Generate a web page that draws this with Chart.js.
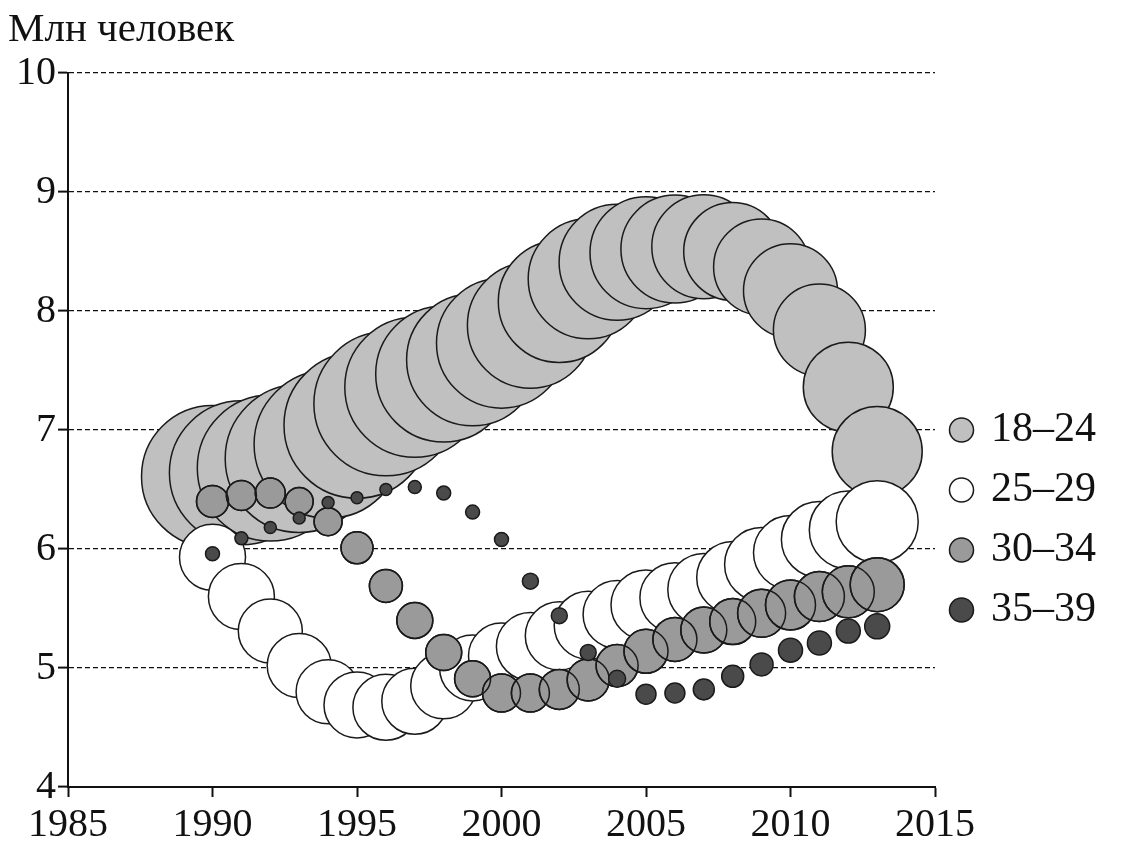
<!DOCTYPE html>
<html>
<head>
<meta charset="utf-8">
<style>
html,body{margin:0;padding:0;background:#fff;}
#wrap{width:1131px;height:843px;position:relative;}
canvas{display:block;}
</style>
<script src="https://cdn.jsdelivr.net/npm/chart.js@4.4.1/dist/chart.umd.min.js"></script>
</head>
<body>
<div id="wrap"><canvas id="c" width="1131" height="843"></canvas></div>
<script>
// ---- data ----
const years = [1990,1991,1992,1993,1994,1995,1996,1997,1998,1999,2000,2001,2002,2003,2004,2005,2006,2007,2008,2009,2010,2011,2012,2013];

const labels = ['18\u201324','25\u201329','30\u201334','35\u201339'];

// population, mln people
const pop1824 = [6.61,6.64,6.68,6.76,6.88,7.04,7.22,7.36,7.47,7.59,7.73,7.88,8.08,8.27,8.41,8.49,8.52,8.54,8.50,8.37,8.17,7.84,7.36,6.82];
const pop2529 = [5.93,5.60,5.31,5.02,4.80,4.69,4.67,4.72,4.85,5.00,5.10,5.18,5.27,5.36,5.45,5.53,5.59,5.66,5.76,5.87,5.97,6.08,6.16,6.23];
const pop3034 = [6.40,6.45,6.47,6.40,6.23,6.01,5.69,5.40,5.13,4.91,4.79,4.79,4.82,4.90,5.02,5.14,5.24,5.32,5.39,5.46,5.53,5.60,5.64,5.70];
const pop3539 = [5.96,6.09,6.18,6.26,6.39,6.43,6.50,6.52,6.47,6.31,6.08,5.73,5.44,5.13,4.91,4.78,4.79,4.82,4.93,5.03,5.15,5.21,5.31,5.35];

// bubble size values (third dimension of the bubbles)
const size1824 = [71,72,73,74,74,73,72,70,68,66,65,63,61,60,58,56,54,52,49,48,47,46,45,45];
const size2529 = [33,33,32,32,32,33,33,33,33,33,33,34,34,34,34,35,35,36,36,37,37,38,39,41];
const size3034 = [16,15,15,14,14,16,16.5,18,18,18,19,19,20,21,21,22,22,23,23,24,25,25,26,27];
const size3539 = [7,6.5,6,6,6,6,6,6.5,7,7,7,8,8,8,8.5,10,10,10.5,11,11.5,12,12,12,12.5];

const xTicks = [1985,1990,1995,2000,2005,2010,2015];
const yTicks = [4,5,6,7,8,9,10];

const yTitle = 'Млн человек';

// ---- styling ----
const SERIF = '"Liberation Serif", "Times New Roman", "DejaVu Serif", serif';
const INK = '#111111';
const EDGE = '#1a1a1a';

function pts(vals, sizes){
  return years.map((yr, i) => ({x: yr, y: vals[i], r: sizes[i]}));
}

const legendWidth = {
  id: 'legendWidth',
  beforeInit(chart){
    const lg = chart.legend;
    if (!lg) return;
    const fit = lg.fit.bind(lg);
    lg.fit = function(){ fit(); this.width = 196; };
  }
};

new Chart(document.getElementById('c'), {
  type: 'bubble',
  data: {
    datasets: [
      {label: labels[0], data: pts(pop1824, size1824), backgroundColor: '#c0c0c0', borderColor: EDGE, borderWidth: 1.5, order: 5},
      {label: labels[1], data: pts(pop2529, size2529), backgroundColor: '#ffffff', borderColor: EDGE, borderWidth: 1.5, order: 4},
      {label: labels[2], data: pts(pop3034, size3034), backgroundColor: '#9a9a9a', borderColor: EDGE, borderWidth: 1.5, order: 3},
      {label: labels[3], data: pts(pop3539, size3539), backgroundColor: '#4a4a4a', borderColor: EDGE, borderWidth: 1.5, order: 1},
      {label: labels[2] + ' outline', data: pts(pop3034, size3034), backgroundColor: 'rgba(0,0,0,0)', borderColor: EDGE, borderWidth: 1.5, order: 2}
    ]
  },
  options: {
    responsive: false,
    devicePixelRatio: 1,
    animation: false,
    events: [],
    layout: {autoPadding: false, padding: {left: 8, right: 0, top: 0, bottom: 0}},
    scales: {
      x: {
        type: 'linear', min: 1985, max: 2015,
        afterBuildTicks(scale){ scale.ticks = xTicks.map(v => ({value: v})); },
        ticks: {callback: v => String(v), font: {family: SERIF, size: 40}, color: INK, padding: 4, maxRotation: 0, autoSkip: false},
        grid: {drawOnChartArea: false, drawTicks: true, tickLength: 10, tickWidth: 2, tickColor: INK},
        border: {display: true, color: INK, width: 2},
        afterFit(scale){ scale.height = 56; }
      },
      y: {
        type: 'linear', min: 4, max: 10,
        afterBuildTicks(scale){ scale.ticks = yTicks.map(v => ({value: v})); },
        ticks: {callback: v => String(v), font: {family: SERIF, size: 40}, color: INK, padding: 2},
        grid: {color: INK, lineWidth: 1.2, drawTicks: true, tickLength: 10, tickWidth: 2, tickColor: INK},
        border: {display: true, color: INK, width: 2, dash: [5, 3]},
        afterFit(scale){ scale.width = 60; }
      }
    },
    plugins: {
      title: {
        display: true, text: yTitle, align: 'start', color: INK,
        font: {family: SERIF, size: 41, weight: 'normal'},
        padding: {top: 6, bottom: 17.8}
      },
      legend: {
        position: 'right', align: 'start',
        title: {display: true, text: '', padding: {top: 376.6, bottom: 0}, font: {size: 12}},
        labels: {
          usePointStyle: true, pointStyle: 'circle', boxWidth: 17, boxHeight: 17, padding: 18,
          font: {family: SERIF, size: 42}, color: INK,
          filter: item => item.datasetIndex !== 4,
          sort: (a, b) => a.datasetIndex - b.datasetIndex
        }
      },
      tooltip: {enabled: false}
    }
  },
  plugins: [legendWidth]
});
</script>
</body>
</html>
